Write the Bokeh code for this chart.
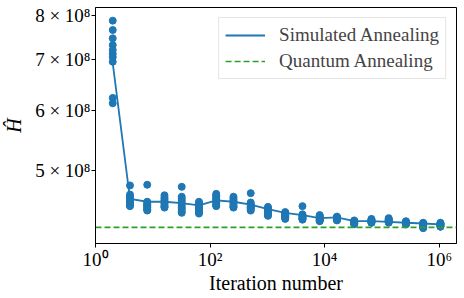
from bokeh.plotting import figure
from bokeh.models import Range1d, FixedTicker, Legend, LegendItem
from bokeh.embed import file_html
from bokeh.resources import INLINE

# ---- data -------------------------------------------------------------
iterations = [2, 4, 8, 16, 32, 64, 128, 256, 512, 1024, 2048, 4096, 8192,
              16384, 32768, 65536, 131072, 262144, 524288, 1048576]

h_2 = [7.87e8, 7.65e8, 7.46e8, 7.31e8, 7.20e8, 7.12e8, 7.05e8, 6.95e8, 6.23e8, 6.13e8]
h_4 = [4.78e8, 4.65e8, 4.62e8, 4.60e8, 4.58e8, 4.56e8, 4.54e8, 4.52e8, 4.50e8, 4.49e8]
h_8 = [4.79e8, 4.55e8, 4.53e8, 4.51e8, 4.50e8, 4.48e8, 4.47e8, 4.45e8, 4.44e8, 4.43e8]
h_16 = [4.64e8, 4.61e8, 4.59e8, 4.57e8, 4.55e8, 4.53e8, 4.51e8, 4.49e8, 4.48e8, 4.47e8]
h_32 = [4.76e8, 4.62e8, 4.59e8, 4.56e8, 4.53e8, 4.50e8, 4.47e8, 4.45e8, 4.42e8, 4.40e8]
h_64 = [4.55e8, 4.53e8, 4.51e8, 4.49e8, 4.47e8, 4.45e8, 4.43e8, 4.42e8, 4.40e8, 4.39e8]
h_128 = [4.66e8, 4.64e8, 4.62e8, 4.60e8, 4.58e8, 4.56e8, 4.54e8, 4.52e8, 4.50e8, 4.49e8]
h_256 = [4.62e8, 4.60e8, 4.58e8, 4.56e8, 4.55e8, 4.53e8, 4.51e8, 4.49e8, 4.48e8, 4.47e8]
h_512 = [4.67e8, 4.54e8, 4.52e8, 4.51e8, 4.49e8, 4.48e8, 4.47e8, 4.46e8, 4.44e8, 4.43e8]
h_1024 = [4.48e8, 4.46e8, 4.45e8, 4.43e8, 4.42e8, 4.41e8, 4.40e8, 4.39e8, 4.37e8, 4.36e8]
h_2048 = [4.41e8, 4.40e8, 4.39e8, 4.38e8, 4.37e8, 4.36e8, 4.35e8, 4.34e8, 4.33e8, 4.32e8]
h_4096 = [4.49e8, 4.38e8, 4.37e8, 4.36e8, 4.35e8, 4.34e8, 4.33e8, 4.32e8, 4.32e8, 4.31e8]
h_8192 = [4.37e8, 4.36e8, 4.35e8, 4.34e8, 4.33e8, 4.32e8, 4.31e8, 4.30e8, 4.30e8, 4.29e8]
h_16384 = [4.35e8, 4.34e8, 4.34e8, 4.33e8, 4.33e8, 4.32e8, 4.32e8, 4.31e8, 4.31e8, 4.30e8]
h_32768 = [4.30e8, 4.29e8, 4.29e8, 4.28e8, 4.28e8, 4.27e8, 4.27e8, 4.26e8, 4.26e8, 4.25e8]
h_65536 = [4.32e8, 4.31e8, 4.30e8, 4.30e8, 4.29e8, 4.29e8, 4.28e8, 4.28e8, 4.27e8, 4.27e8]
h_131072 = [4.33e8, 4.32e8, 4.31e8, 4.30e8, 4.30e8, 4.29e8, 4.29e8, 4.28e8, 4.28e8, 4.27e8]
h_262144 = [4.29e8, 4.28e8, 4.28e8, 4.27e8, 4.27e8, 4.26e8, 4.26e8, 4.26e8, 4.25e8, 4.25e8]
h_524288 = [4.27e8, 4.26e8, 4.26e8, 4.25e8, 4.24e8, 4.23e8, 4.23e8, 4.22e8, 4.21e8, 4.20e8]
h_1048576 = [4.27e8, 4.26e8, 4.26e8, 4.25e8, 4.25e8, 4.24e8, 4.24e8, 4.23e8, 4.22e8, 4.22e8]

sa_curve = [6.92e8, 4.59e8, 4.55e8, 4.55e8, 4.53e8, 4.50e8, 4.57e8, 4.55e8, 4.51e8, 4.45e8,
            4.40e8, 4.37e8, 4.33e8, 4.34e8, 4.29e8, 4.29e8, 4.28e8, 4.27e8, 4.26e8, 4.25e8]

qa_energy = 4.21e8

x_limits = [1, 2.0e6]
y_limits = [4.01e8, 8.19e8]

x_ticks = [1, 100, 10000, 1000000]
x_tick_labels = ["10\u2070", "10\u00b2", "10\u2074", "10\u2076"]
y_ticks = [5e8, 6e8, 7e8, 8e8]
y_tick_labels = ["5 \u00d7 10\u2078", "6 \u00d7 10\u2078", "7 \u00d7 10\u2078", "8 \u00d7 10\u2078"]

samples = [h_2, h_4, h_8, h_16, h_32, h_64, h_128, h_256, h_512, h_1024, h_2048,
           h_4096, h_8192, h_16384, h_32768, h_65536, h_131072, h_262144, h_524288, h_1048576]

pts_x, pts_y = [], []
for it, vals in zip(iterations, samples):
    for v in vals:
        pts_x.append(it)
        pts_y.append(v)

# ---- figure -----------------------------------------------------------
FONT = "Liberation Serif"
BLUE = "#1f77b4"
GREEN = "#2ca02c"

p = figure(width=464, height=298, x_axis_type="log", y_axis_type="log",
           x_range=Range1d(*x_limits), y_range=Range1d(*y_limits),
           output_backend="svg", toolbar_location=None)
p.min_border = 0
p.min_border_left = 93
p.min_border_right = 8
p.min_border_top = 7
p.min_border_bottom = 55

p.grid.visible = False
p.outline_line_color = "black"
p.outline_line_width = 1
p.background_fill_color = "white"
p.border_fill_color = "white"

sa_line = p.line(iterations, sa_curve, line_color=BLUE, line_width=1.8)
p.scatter(pts_x, pts_y, size=7, color=BLUE)
qa_line = p.line(x_limits, [qa_energy, qa_energy], line_color=GREEN,
                 line_width=1.7, line_dash="6 3")

# axes
p.xaxis.ticker = FixedTicker(ticks=x_ticks, minor_ticks=[])
p.yaxis.ticker = FixedTicker(ticks=y_ticks, minor_ticks=[])
p.xaxis.major_label_overrides = {t: l for t, l in zip(x_ticks, x_tick_labels)}
p.yaxis.major_label_overrides = {t: l for t, l in zip(y_ticks, y_tick_labels)}

for ax in (p.xaxis[0], p.yaxis[0]):
    ax.axis_line_color = "black"
    ax.major_tick_line_color = "black"
    ax.major_tick_out = 4
    ax.major_tick_in = 0
    ax.minor_tick_out = 0
    ax.minor_tick_in = 0
    ax.major_label_text_font = FONT
    ax.major_label_text_font_size = "19px"
    ax.major_label_text_color = "black"
    ax.axis_label_text_font = FONT
    ax.axis_label_text_font_size = "20px"
    ax.axis_label_text_color = "black"
    ax.major_label_standoff = 1

p.xaxis.axis_label = "Iteration number"
p.xaxis.axis_label_text_font_style = "normal"
p.xaxis.axis_label_standoff = -1
p.yaxis.axis_label = "\u0124"
p.yaxis.axis_label_text_font_style = "italic"
p.yaxis.axis_label_standoff = 7

legend = Legend(items=[LegendItem(label="Simulated Annealing", renderers=[sa_line]),
                       LegendItem(label="Quantum Annealing", renderers=[qa_line])],
                location="top_right", margin=10, padding=6, spacing=4,
                glyph_width=40, glyph_height=22, label_height=22, label_standoff=14,
                label_text_font=FONT, label_text_font_size="19px",
                border_line_color="#cccccc", border_line_width=1,
                background_fill_alpha=0.8)
p.add_layout(legend)

open("out.html", "w").write(file_html(p, INLINE))
